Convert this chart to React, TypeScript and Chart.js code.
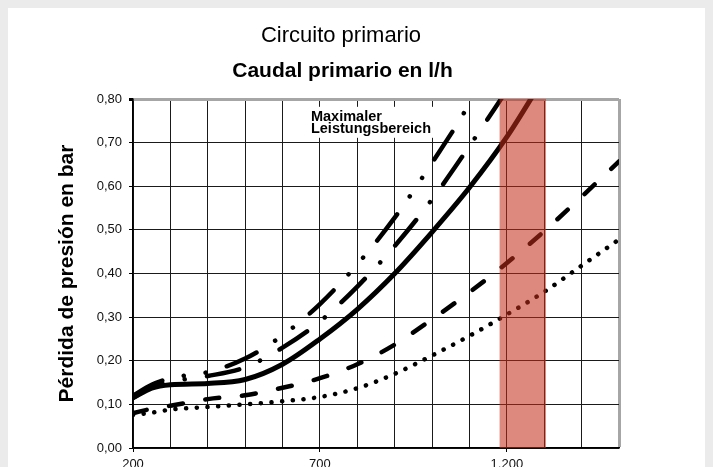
import React, { useEffect, useRef } from 'react';
import { Chart, registerables } from 'chart.js';

Chart.register(...registerables);

const FONT = '"Liberation Sans", Arial, Helvetica, sans-serif';

// ---- data (flow in l/h, pressure loss in bar) ----
const flowsLh = [200, 250, 300, 400, 500, 600, 700, 800, 900, 1000, 1100, 1200, 1300, 1400, 1500];
const seriesSolid = [0.115, 0.137, 0.145, 0.148, 0.157, 0.192, 0.25, 0.318, 0.4, 0.495, 0.597, 0.713, 0.85];
const seriesDashDotDot = [0.12, 0.145, 0.16, 0.174, 0.205, 0.258, 0.33, 0.421, 0.528, 0.654, 0.79, 0.96];
const seriesDashDot = [0.115, 0.14, 0.152, 0.165, 0.185, 0.23, 0.29, 0.37, 0.463, 0.57, 0.692, 0.82];
const seriesDashed = [0.08, 0.09, 0.097, 0.112, 0.121, 0.138, 0.16, 0.192, 0.237, 0.295, 0.357, 0.424, 0.497, 0.576, 0.657];
const seriesDotted = [0.076, 0.081, 0.088, 0.094, 0.1, 0.107, 0.117, 0.137, 0.17, 0.212, 0.257, 0.306, 0.358, 0.418, 0.478];

const xMin = 200;
const xMax = 1500;
const xGridStep = 100;
const xLabelStep = 500;
const yMin = 0;
const yMax = 0.8;
const yStep = 0.1;

const bandFlows = [1180, 1305];
const bandTop = 0.8;

const titleText = 'Circuito primario';
const subtitleText = 'Caudal primario en l/h';
const yTitleText = 'Pérdida de presión en bar';
const noteLines = ['Maximaler', 'Leistungsbereich'];
const noteAt = { x: 676, y: 0.75 };

const toPoints = (vals: number[]) => vals.map((v, i) => ({ x: flowsLh[i], y: v }));

const fmtFlow = (v: number) =>
  v >= 1000 ? `${Math.floor(v / 1000)}.${String(v % 1000).padStart(3, '0')}` : String(v);

const textPlugin = {
  id: 'texts',
  beforeDatasetsDraw(chart: any) {
    const { ctx, scales } = chart;
    const nx = scales.x.getPixelForValue(noteAt.x);
    const ny = scales.y.getPixelForValue(noteAt.y);
    ctx.save();
    ctx.fillStyle = '#ffffff';
    ctx.fillRect(nx - 2, ny - 14, 128, 31);
    ctx.fillStyle = '#000';
    ctx.font = `bold 14.5px ${FONT}`;
    ctx.textAlign = 'left';
    ctx.textBaseline = 'alphabetic';
    noteLines.forEach((t, i) => ctx.fillText(t, nx, ny + i * 12));
    ctx.restore();
  },
  afterDraw(chart: any) {
    const { ctx } = chart;
    ctx.save();
    ctx.fillStyle = '#000';
    ctx.textAlign = 'center';
    ctx.textBaseline = 'alphabetic';
    ctx.font = `22px ${FONT}`;
    ctx.fillText(titleText, 333, 34);
    ctx.font = `bold 21px ${FONT}`;
    ctx.fillText(subtitleText, 334.5, 69);
    ctx.restore();
  },
};

const isTop = (v: number) => Math.abs(v - yMax) < 1e-6;

export default function App() {
  const ref = useRef<HTMLCanvasElement | null>(null);

  useEffect(() => {
    document.body.style.background = '#ebebeb';
    const canvas = ref.current;
    if (!canvas) return;
    const lineBase = {
      type: 'line' as const,
      borderColor: '#000',
      pointRadius: 0,
      fill: false,
      cubicInterpolationMode: 'monotone' as const,
      borderCapStyle: 'round' as const,
      borderJoinStyle: 'round' as const,
      clip: 0,
      order: 1,
    };
    const chart = new Chart(canvas, {
      type: 'line',
      data: {
        datasets: [
          {
            type: 'line',
            label: 'band',
            data: bandFlows.map((x) => ({ x, y: bandTop })),
            borderWidth: 0,
            pointRadius: 0,
            fill: 'origin',
            backgroundColor: 'rgba(195,45,25,0.56)',
            order: 0,
            clip: 0,
          } as any,
          { ...lineBase, label: 'solid', data: toPoints(seriesSolid), borderWidth: 5 },
          { ...lineBase, label: 'dashdotdot', data: toPoints(seriesDashDotDot), borderWidth: 4.5, borderDash: [33, 22, 0.1, 22, 0.1, 22] },
          { ...lineBase, label: 'dashdot', data: toPoints(seriesDashDot), borderWidth: 4.5, borderDash: [33, 22.5, 0.1, 22.5] },
          { ...lineBase, label: 'dashed', data: toPoints(seriesDashed), borderWidth: 4.5, borderDash: [14, 22.8] },
          { ...lineBase, label: 'dotted', data: toPoints(seriesDotted), borderWidth: 4.5, borderDash: [0.1, 10.6] },
        ] as any,
      },
      options: {
        animation: false,
        responsive: false,
        maintainAspectRatio: false,
        layout: { padding: { top: 91, right: 94, left: 0, bottom: 0 } },
        plugins: {
          legend: { display: false },
          tooltip: { enabled: false },
          title: { display: false },
        },
        scales: {
          x: {
            type: 'linear',
            min: xMin,
            max: xMax,
            afterFit: (s: any) => {
              s.height = 24;
            },
            ticks: {
              stepSize: xGridStep,
              autoSkip: false,
              maxRotation: 0,
              padding: 5,
              color: '#111',
              font: { family: FONT, size: 13 },
              callback: (value: any) => {
                const v = Number(value);
                return (v - xMin) % xLabelStep === 0 ? fmtFlow(v) : '';
              },
            },
            grid: {
              color: (c: any) => (c.tick && c.tick.value === xMax ? '#a6a6a6' : '#1a1a1a'),
              lineWidth: (c: any) => (c.tick && c.tick.value === xMax ? 3 : 1),
              tickLength: 4,
              tickColor: (c: any) =>
                c.tick && (c.tick.value - xMin) % xLabelStep === 0 ? '#000' : 'rgba(0,0,0,0)',
            },
            border: { color: '#000', width: 1.5 },
          },
          y: {
            min: yMin,
            max: yMax,
            afterFit: (s: any) => {
              s.width = 125;
            },
            ticks: {
              stepSize: yStep,
              padding: 7,
              color: '#111',
              font: { family: FONT, size: 13 },
              callback: (value: any) => Number(value).toFixed(2).replace('.', ','),
            },
            grid: {
              color: (c: any) => (c.tick && isTop(c.tick.value) ? '#a6a6a6' : '#1a1a1a'),
              lineWidth: (c: any) => (c.tick && isTop(c.tick.value) ? 3 : 1),
              tickLength: 4,
              tickColor: '#000',
            },
            border: { color: '#000', width: 1.5 },
            title: {
              display: true,
              text: yTitleText,
              color: '#000',
              font: { family: FONT, size: 21, weight: 'bold' },
              padding: { top: 47, bottom: 0 },
            },
          },
        },
      } as any,
      plugins: [textPlugin],
    });
    return () => chart.destroy();
  }, []);

  return (
    <div style={{ width: 705, height: 464, background: '#ffffff' }}>
      <canvas ref={ref} width={705} height={464} style={{ display: 'block' }} />
    </div>
  );
}
